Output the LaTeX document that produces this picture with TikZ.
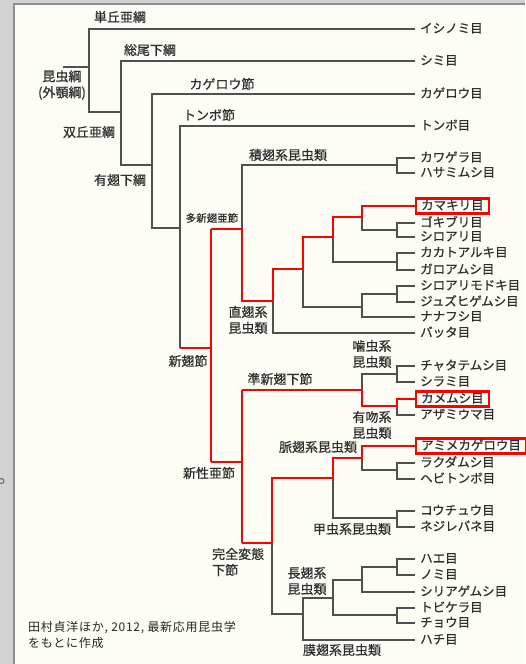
\documentclass[tikz,border=0pt]{standalone}
\usepackage{fontspec}
\newfontfamily\jp{Noto Sans CJK JP}[FakeBold=0.6]
\newfontfamily\jpcap{Noto Sans CJK JP}[LetterSpace=6]
\definecolor{bg}{HTML}{FDFDF6}
\definecolor{stripg}{HTML}{D2D2D2}
\definecolor{edgeg}{HTML}{8E8E8E}
\definecolor{lineg}{HTML}{505050}
\definecolor{txt}{HTML}{2E2E2E}
\newcommand\pairbr[3]{\draw[gl] (#1.west) -| (#3) |- (#2.west);}
\begin{document}
\begin{tikzpicture}[x=1pt,y=-1pt,
  gl/.style={draw=lineg, line width=1.2pt},
  rl/.style={draw=red, line width=2.2pt, line join=miter},
  taxon/.style={anchor=west, inner xsep=5pt, inner ysep=2.5pt, text height=0.88em, text depth=0.12em,
    font=\jp\fontsize{12.5}{14}\selectfont, text=txt},
  boxed/.style={taxon, draw=red, line width=2.4pt},
  grp/.style={font=\jp\fontsize{13}{16}\selectfont, text=txt, inner sep=0pt, align=center},
]
\useasboundingbox (0,0) rectangle (525,664);
\fill[bg] (0,0) rectangle (525,664);
\fill[stripg] (0,0) rectangle (13,664);
\fill[stripg] (0,0) rectangle (525,3);
\draw[edgeg, line width=2pt] (14,664) -- (14,4) -- (525,4);
\draw[lineg, line width=0.8pt] (1.5,481) circle (2.5);

% ---------- taxa ----------
\node[taxon] (t1) at (415,29) {イシノミ目};
\node[taxon] (t2) at (415,61) {シミ目};
\node[taxon] (t3) at (415,94) {カゲロウ目};
\node[taxon] (t4) at (415,126) {トンボ目};
\node[taxon] (t5) at (415,158) {カワゲラ目};
\node[taxon] (t6) at (415,173) {ハサミムシ目};
\node[boxed] (t7) at (415,206) {カマキリ目};
\node[taxon] (t8) at (415,223) {ゴキブリ目};
\node[taxon] (t9) at (415,237) {シロアリ目};
\node[taxon] (t10) at (415,253) {カカトアルキ目};
\node[taxon] (t11) at (415,270) {ガロアムシ目};
\node[taxon] (t12) at (415,286) {シロアリモドキ目};
\node[taxon] (t13) at (415,302) {ジュズヒゲムシ目};
\node[taxon] (t14) at (415,317) {ナナフシ目};
\node[taxon] (t15) at (415,333) {バッタ目};
\node[taxon] (t16) at (415,366) {チャタテムシ目};
\node[taxon] (t17) at (415,382) {シラミ目};
\node[boxed] (t18) at (415,399) {カメムシ目};
\node[taxon] (t19) at (415,415) {アザミウマ目};
\node[boxed] (t20) at (415,446) {アミメカゲロウ目};
\node[taxon] (t21) at (415,463) {ラクダムシ目};
\node[taxon] (t22) at (415,479) {ヘビトンボ目};
\node[taxon] (t23) at (415,511) {コウチュウ目};
\node[taxon] (t24) at (415,527) {ネジレバネ目};
\node[taxon] (t25) at (415,559) {ハエ目};
\node[taxon] (t26) at (415,575) {ノミ目};
\node[taxon] (t27) at (415,592) {シリアゲムシ目};
\node[taxon] (t28) at (415,608) {トビケラ目};
\node[taxon] (t29) at (415,623) {チョウ目};
\node[taxon] (t30) at (415,640) {ハチ目};

% ---------- group labels ----------
\node[grp] (g0) at (62,85) {昆虫綱\\(外顎綱)};
\node[grp] (g1) at (120,17) {単丘亜綱};
\node[grp] (g2) at (150,50) {総尾下綱};
\node[grp] (g3) at (89,132) {双丘亜綱};
\node[grp] (g4) at (222,84) {カゲロウ節};
\node[grp] (g5) at (120,180) {有翅下綱};
\node[grp] (g6) at (209,115) {トンボ節};
\node[grp] (g7) at (288,155) {積翅系昆虫類};
\node[grp, font=\jp\fontsize{10.5}{12}\selectfont] (g8) at (212,218) {多新翅亜節};
\node[grp] (g9) at (248,320) {直翅系\\昆虫類};
\node[grp] (g10) at (188,361) {新翅節};
\node[grp] (g11) at (372,354) {噛虫系\\昆虫類};
\node[grp] (g12) at (280,379) {準新翅下節};
\node[grp] (g13) at (372,425) {有吻系\\昆虫類};
\node[grp] (g14) at (318,447) {脈翅系昆虫類};
\node[grp] (g15) at (209,473) {新性亜節};
\node[grp] (g16) at (352,529) {甲虫系昆虫類};
\node[grp, align=left, anchor=west] (g17) at (212,562) {完全変態\\下節};
\node[grp] (g18) at (307,581) {長翅系\\昆虫類};
\node[grp] (g19) at (342,650) {膜翅系昆虫類};
\node[anchor=north west, align=left, inner sep=0pt, text=black!85,
  font=\jpcap\fontsize{12}{16}\selectfont] (cap) at (28,621)
  {田村貞洋ほか, 2012, 最新応用昆虫学\\をもとに作成};

% ---------- junctions ----------
\coordinate (root) at (63,67);
\coordinate (a0) at (89,67);
\coordinate (a1) at (89,112);
\coordinate (a2) at (121,165);
\coordinate (a3) at (152,228);
\coordinate (a4) at (180,348);
\coordinate (b0) at (211,229);
\coordinate (b1) at (211,462);
\coordinate (c0) at (242,229);
\coordinate (c1) at (242,301);
\coordinate (c2) at (273,301);
\coordinate (c3) at (303,269);
\coordinate (c4) at (333,237);
\coordinate (c5) at (362,217);
\coordinate (c6) at (362,307);
\coordinate (d0) at (242,462);
\coordinate (d1) at (242,390);
\coordinate (d2) at (242,543);
\coordinate (d3) at (362,390);
\coordinate (e0) at (272,543);
\coordinate (e1) at (333,478);
\coordinate (e2) at (362,458);
\coordinate (e3) at (303,614);
\coordinate (e4) at (303,598);
\coordinate (e5) at (333,598);
\coordinate (e6) at (362,580);
\coordinate (k1) at (397,165);
\coordinate (k2) at (397,230);
\coordinate (k3) at (397,262);
\coordinate (k4) at (397,294);
\coordinate (k5) at (397,374);
\coordinate (k6) at (397,406);
\coordinate (k7) at (397,470);
\coordinate (k8) at (397,518);
\coordinate (k9) at (397,567);
\coordinate (k10) at (397,615);

% ---------- gray connectors ----------
\draw[gl] (root) -- (a0);
\draw[gl] (t1.west) -| (a1) -| (a2);
\draw[gl] (t2.west) -| (a2) -| (a3);
\draw[gl] (t3.west) -| (a3) -| (a4);
\draw[gl] (t4.west) -| (a4);
\draw[gl] (c0) |- (k1);
\pairbr{t5}{t6}{k1}
\draw[gl] (c2) |- (t15.west);
\draw[gl] (c3) |- (c6);
\draw[gl] (t14.west) -| (c6) |- (k4);
\pairbr{t12}{t13}{k4}
\draw[gl] (c4) |- (k3);
\pairbr{t10}{t11}{k3}
\draw[gl] (c5) |- (k2);
\pairbr{t8}{t9}{k2}
\draw[gl] (d3) |- (k5);
\pairbr{t16}{t17}{k5}
\draw[gl] (k6) |- (t19.west);
\draw[gl] (e2) |- (k7);
\pairbr{t21}{t22}{k7}
\draw[gl] (e1) |- (k8);
\pairbr{t23}{t24}{k8}
\draw[gl] (e0) |- (e3);
\draw[gl] (t30.west) -| (e4) -- (e5);
\draw[gl] (e5) |- (k10);
\pairbr{t28}{t29}{k10}
\draw[gl] (e5) |- (e6);
\draw[gl] (e6) |- (k9);
\pairbr{t25}{t26}{k9}
\draw[gl] (e6) |- (t27.west);

% ---------- red path ----------
\draw[rl] (a4) -- (a4 -| b0);
\draw[rl] (b0) -- (b1);
\draw[rl] (b0) -- (c0) -- (c1) -- (c2) |- (c3) |- (c4) |- (c5) |- (t7.west);
\draw[rl] (b1) -- (d0);
\draw[rl] (d1) -- (d2);
\draw[rl] (d1) -- (d3) |- (k6) |- (t18.west);
\draw[rl] (d2) -- (e0) |- (e1) |- (e2) |- (t20.west);
\end{tikzpicture}
\end{document}
